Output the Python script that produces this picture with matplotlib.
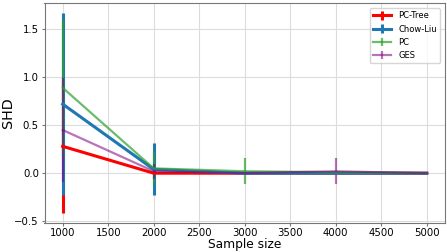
import numpy as np
import matplotlib
matplotlib.use('Agg')
import matplotlib.pyplot as plt

sizes = [1000, 2000, 3000, 4000, 5000]

pctree_mean = [0.28, 0.0, 0.0, 0.0, 0.0]
pctree_err = [0.69, 0.0, 0.0, 0.0, 0.0]

chowliu_mean = [0.72, 0.04, 0.0, 0.0, 0.0]
chowliu_err = [0.95, 0.27, 0.0, 0.0, 0.0]

pc_mean = [0.89, 0.05, 0.02, 0.01, 0.0]
pc_err = [0.71, 0.17, 0.135, 0.0, 0.0]

ges_mean = [0.45, 0.02, 0.0, 0.02, 0.0]
ges_err = [0.54, 0.08, 0.0, 0.135, 0.0]

fig, ax = plt.subplots(figsize=(4.47, 2.52), dpi=100)
fig.subplots_adjust(left=44.5/447, right=445/447, top=1-3/252, bottom=1-222.5/252)

ax.errorbar(sizes, pctree_mean, yerr=pctree_err, color='red', lw=2.2, elinewidth=2.2, label='PC-Tree')
ax.errorbar(sizes, chowliu_mean, yerr=chowliu_err, color='tab:blue', lw=2.2, elinewidth=2.2, label='Chow-Liu')
ax.errorbar(sizes, pc_mean, yerr=pc_err, color='tab:green', alpha=0.7, lw=1.6, elinewidth=1.6, label='PC')
ax.errorbar(sizes, ges_mean, yerr=ges_err, color='purple', alpha=0.55, lw=1.6, elinewidth=1.6, label='GES')

ax.grid(color='#dcdcdc', lw=0.8)
ax.set_axisbelow(True)
for s in ax.spines.values():
    s.set_color('#777777')
    s.set_linewidth(0.8)
ax.tick_params(labelsize=7.3, length=2, pad=2, color='#777777', labelcolor='black')
ax.set_xticks([1000, 1500, 2000, 2500, 3000, 3500, 4000, 4500, 5000])
ax.set_yticks([-0.5, 0.0, 0.5, 1.0, 1.5])
ax.set_xlabel('Sample size', fontsize=8.8, labelpad=0)
ax.set_ylabel('SHD', fontsize=10.3)
ax.yaxis.set_label_coords(-0.074, 0.5)
ax.legend(loc='upper right', fontsize=6, handlelength=2.2, borderaxespad=0.6)

plt.savefig('out.png', dpi=100)
